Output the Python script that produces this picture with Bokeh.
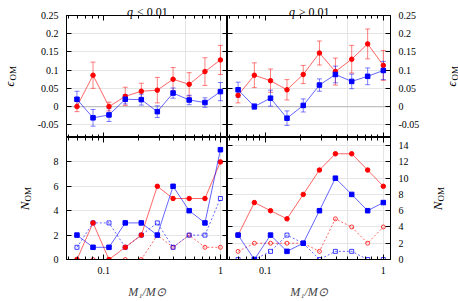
import math
from bokeh.plotting import figure
from bokeh.models import (Range1d, LinearAxis, LogAxis, FixedTicker, CustomJSTickFormatter,
                          Whisker, TeeHead, ColumnDataSource, Span, Label)
from bokeh.layouts import gridplot
from bokeh.embed import file_html
from bokeh.resources import INLINE

# ---------------- data ----------------
mass = [0.059, 0.081, 0.111, 0.153, 0.21, 0.288, 0.393, 0.54, 0.737, 1.0]

# epsilon_OM, q < 0.01
eps_lo_red = [0.0, 0.086, 0.0, 0.028, 0.042, 0.045, 0.075, 0.061, 0.096, 0.128]
err_lo_red = [0.014, 0.036, 0.012, 0.025, 0.022, 0.035, 0.032, 0.032, 0.038, 0.040]
eps_lo_blue = [0.020, -0.031, -0.023, 0.020, 0.019, -0.014, 0.037, 0.018, 0.011, 0.041]
err_lo_blue = [0.022, 0.023, 0.018, 0.013, 0.015, 0.016, 0.014, 0.013, 0.013, 0.025]

# epsilon_OM, q >= 0.01
eps_hi_red = [0.031, 0.086, 0.071, 0.046, 0.088, 0.147, 0.096, 0.130, 0.172, 0.113]
err_hi_red = [0.021, 0.034, 0.032, 0.028, 0.025, 0.033, 0.037, 0.038, 0.041, 0.041]
eps_hi_blue = [0.046, 0.0, 0.023, -0.032, 0.003, 0.059, 0.088, 0.069, 0.083, 0.099]
err_hi_blue = [0.021, 0.008, 0.022, 0.020, 0.018, 0.017, 0.023, 0.020, 0.023, 0.025]

# N_OM, q < 0.01
n_lo_red = [0, 3, 0, 1, 2, 6, 5, 5, 5, 8]
n_lo_blue = [2, 1, 1, 3, 3, 2, 6, 4, 3, 9]
n_lo_red_open = [0, 0, 0, 0, 0, 2, 1, 2, 1, 1]
n_lo_blue_open = [1, 3, 3, 1, 2, 3, 1, 2, 2, 5]

# N_OM, q >= 0.01
n_hi_red = [3, 7, 6, 5, 8, 11, 13, 13, 11, 9]
n_hi_blue = [3, 0, 3, 1, 2, 6, 10, 8, 6, 7]
n_hi_red_open = [1, 2, 2, 2, 2, 1, 5, 4, 2, 4]
n_hi_blue_open = [0, 0, 1, 3, 2, 0, 1, 1, 0, 0]

x_major = [0.1, 1]
x_minor = [0.05, 0.06, 0.07, 0.08, 0.09, 0.2, 0.3, 0.4, 0.5, 0.6, 0.7, 0.8, 0.9]
eps_ticks = [-0.05, 0, 0.05, 0.1, 0.15, 0.2, 0.25]
n_lo_ticks = [0, 2, 4, 6, 8]
n_hi_ticks = [0, 2, 4, 6, 8, 10, 12, 14]

# ---------------- styling ----------------
FONT = "Liberation Serif"
RED = "#ff0000"
BLUE = "#0000ff"
LINE_ALPHA = 0.6
X_RANGE = (0.048, 1.15)
EPS_RANGE = (-0.085, 0.25)
NLO_RANGE = (0, 10)
NHI_RANGE = (0, 15)

FW_L, FW_R = 161, 163
FH_T, FH_B = 122, 124
B_LEFT, B_RIGHT, B_TOP, B_BOTTOM = 66, 68, 15, 40


def xpos(fw, dx):
    """data x for a point dx pixels right of the frame's left edge"""
    ppd = fw / math.log10(X_RANGE[1] / X_RANGE[0])
    return X_RANGE[0] * 10 ** (dx / ppd)


def ypos(yr, fh, dy):
    """data y for a point dy pixels above the frame's bottom edge"""
    return yr[0] + dy * (yr[1] - yr[0]) / fh


def make_fig(fw, fh, yr, left, right, top, bottom):
    p = figure(width=fw + left + right, height=fh + top + bottom,
               x_axis_type="log", x_range=Range1d(*X_RANGE), y_range=Range1d(*yr),
               x_axis_location=None, y_axis_location=None,
               output_backend="svg", toolbar_location=None,
               min_border_left=left, min_border_right=right,
               min_border_top=top, min_border_bottom=bottom)
    p.outline_line_color = "black"
    p.outline_line_width = 1
    p.background_fill_color = "white"
    p.border_fill_color = "white"
    return p


def style_axis(ax, labels):
    ax.major_tick_in = 5
    ax.major_tick_out = 0
    ax.minor_tick_in = 3
    ax.minor_tick_out = 0
    ax.axis_line_color = "black"
    ax.major_tick_line_color = "black"
    ax.minor_tick_line_color = "black"
    if labels:
        ax.formatter = CustomJSTickFormatter(code="return String(tick);")
        ax.major_label_text_font = FONT
        ax.major_label_text_font_size = "10px"
        ax.major_label_text_color = "black"
        ax.major_label_standoff = 8
    else:
        ax.formatter = CustomJSTickFormatter(code="return '';")
        ax.major_label_text_font_size = "0px"
        ax.major_label_standoff = 0


def add_axes(p, yticks, ylab_side, xlabels):
    for side in ("left", "right"):
        ax = LinearAxis(ticker=FixedTicker(ticks=yticks, minor_ticks=[]))
        style_axis(ax, side == ylab_side)
        p.add_layout(ax, side)
    for side in ("below", "above"):
        ax = LogAxis(ticker=FixedTicker(ticks=x_major, minor_ticks=x_minor))
        lab = xlabels and side == "below"
        style_axis(ax, lab)
        if lab:
            ax.axis_label = "M₁/M⊙"
            ax.axis_label_text_font = FONT
            ax.axis_label_text_font_style = "italic"
            ax.axis_label_text_font_size = "12px"
            ax.axis_label_standoff = 8
            ax.major_label_standoff = 7
        p.add_layout(ax, side)


def add_err(p, y, e, color):
    src = ColumnDataSource(dict(x=mass, lo=[a - b for a, b in zip(y, e)],
                                hi=[a + b for a, b in zip(y, e)]))
    w = Whisker(source=src, base="x", upper="hi", lower="lo", dimension="height",
                line_color=color, line_alpha=0.5, line_width=1,
                upper_head=TeeHead(size=5, line_color=color, line_alpha=0.5, line_width=1),
                lower_head=TeeHead(size=5, line_color=color, line_alpha=0.5, line_width=1),
                level="underlay")
    p.add_layout(w)


def series(p, y, color, marker, filled, dash="solid"):
    p.line(mass, y, line_color=color, line_alpha=LINE_ALPHA, line_width=1, line_dash=dash)
    if filled:
        p.scatter(mass, y, marker=marker, size=4.5, fill_color=color, line_color=color,
                  line_width=1)
    else:
        p.scatter(mass, y, marker=marker, size=4, fill_color=None,
                  line_color=color, line_alpha=0.75, line_width=1)


def text(p, side, x, y, s, size="11px", style="normal", angle=0.0, align="left",
         baseline="alphabetic"):
    p.add_layout(Label(x=x, y=y, text=s, angle=angle, text_align=align,
                       text_baseline=baseline, text_font=FONT, text_font_style=style,
                       text_font_size=size, text_color="black"), side)


def ylabel(p, side, main, dx, fw, fh, yr):
    # rotated label reading bottom-to-top, with roman subscript "OM"
    if main == "ϵ":
        y0, w, size = fh / 2 - 10, 6, "12px"
    else:
        y0, w, size = fh / 2 - 12, 9, "13px"
    text(p, side, xpos(fw, dx), ypos(yr, fh, y0), main, size=size, style="italic",
         angle=math.pi / 2, baseline="middle")
    text(p, side, xpos(fw, dx + 3), ypos(yr, fh, y0 + w), "OM", size="9px",
         angle=math.pi / 2, baseline="middle")


def title(p, qside, rel, fw, fh, yr):
    x0 = fw / 2 - 20
    text(p, qside, xpos(fw, x0), ypos(yr, fh, fh + 4), "q", size="12px", style="italic")
    text(p, "above", xpos(fw, x0 + 10), ypos(yr, fh, fh + 4), rel, size="12px")


# ---------------- top-left ----------------
tl = make_fig(FW_L, FH_T, EPS_RANGE, B_LEFT, 0, B_TOP, 0)
add_axes(tl, eps_ticks, "left", False)
tl.add_layout(Span(location=0, dimension="width", line_color="#c0c0c0", line_width=1.2, level="underlay"))
add_err(tl, eps_lo_red, err_lo_red, RED)
add_err(tl, eps_lo_blue, err_lo_blue, BLUE)
series(tl, eps_lo_red, RED, "circle", True)
series(tl, eps_lo_blue, BLUE, "square", True)
ylabel(tl, "left", "ϵ", -57, FW_L, FH_T, EPS_RANGE)
title(tl, "left", "< 0.01", FW_L, FH_T, EPS_RANGE)

# ---------------- top-right ----------------
tr = make_fig(FW_R, FH_T, EPS_RANGE, 0, B_RIGHT, B_TOP, 0)
add_axes(tr, eps_ticks, "right", False)
tr.add_layout(Span(location=0, dimension="width", line_color="#c0c0c0", line_width=1.2, level="underlay"))
add_err(tr, eps_hi_red, err_hi_red, RED)
add_err(tr, eps_hi_blue, err_hi_blue, BLUE)
series(tr, eps_hi_red, RED, "circle", True)
series(tr, eps_hi_blue, BLUE, "square", True)
ylabel(tr, "right", "ϵ", FW_R + 61, FW_R, FH_T, EPS_RANGE)
title(tr, "right", "≥ 0.01", FW_R, FH_T, EPS_RANGE)

# ---------------- bottom-left ----------------
bl = make_fig(FW_L, FH_B, NLO_RANGE, B_LEFT, 0, 0, B_BOTTOM)
add_axes(bl, n_lo_ticks, "left", True)
series(bl, n_lo_red_open, RED, "circle", False, "2 2")
series(bl, n_lo_blue_open, BLUE, "square", False, "2 2")
series(bl, n_lo_red, RED, "circle", True)
series(bl, n_lo_blue, BLUE, "square", True)
ylabel(bl, "left", "N", -42, FW_L, FH_B, NLO_RANGE)

# ---------------- bottom-right ----------------
br = make_fig(FW_R, FH_B, NHI_RANGE, 0, B_RIGHT, 0, B_BOTTOM)
add_axes(br, n_hi_ticks, "right", True)
series(br, n_hi_red_open, RED, "circle", False, "2 2")
series(br, n_hi_blue_open, BLUE, "square", False, "2 2")
series(br, n_hi_red, RED, "circle", True)
series(br, n_hi_blue, BLUE, "square", True)
ylabel(br, "right", "N", FW_R + 47, FW_R, FH_B, NHI_RANGE)

grid = gridplot([[tl, tr], [bl, br]], toolbar_location=None, merge_tools=False)

open("out.html", "w").write(file_html(grid, INLINE))
